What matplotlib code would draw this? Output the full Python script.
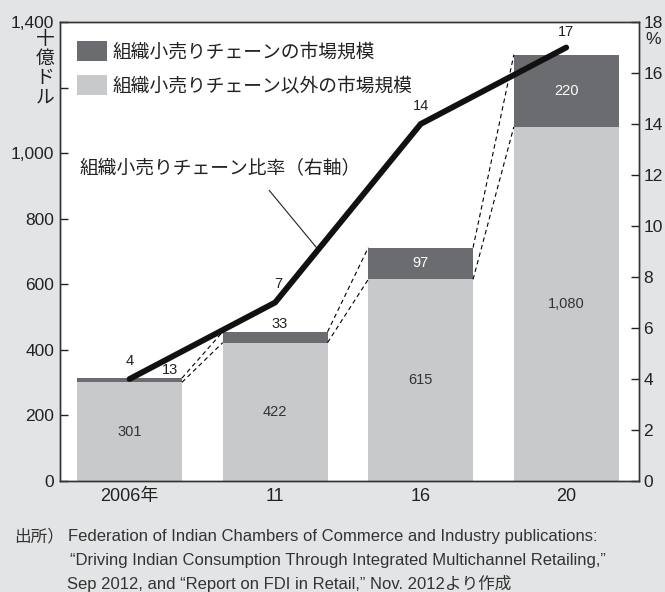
import matplotlib
matplotlib.use("Agg")
import matplotlib.pyplot as plt
from matplotlib.patches import Patch

# ---- data ----
categories = ["2006年", "11", "16", "20"]
organized = [13, 33, 97, 220]          # 組織小売りチェーンの市場規模 (十億ドル)
unorganized = [301, 422, 615, 1080]    # 以外の市場規模
share = [4, 7, 14, 17]                 # 比率 (%)
left_ticks = [0, 200, 400, 600, 800, 1000, 1200, 1400]
left_ticklabels = ["0", "200", "400", "600", "800", "1,000", "", "1,400"]
right_ticks = [0, 2, 4, 6, 8, 10, 12, 14, 16, 18]
unorg_labels = ["301", "422", "615", "1,080"]

JP = ["Noto Sans CJK JP", "DejaVu Sans"]
NUM = ["Liberation Sans", "DejaVu Sans"]
MIX = ["Liberation Sans", "Noto Sans CJK JP", "DejaVu Sans"]

BG = "#e3e4e5"
LIGHT = "#c8c9cb"
DARK = "#6b6c70"
TXT = "#222222"

fig = plt.figure(figsize=(6.65, 5.92), dpi=100, facecolor=BG)
ax = fig.add_axes([60/665, 1-481/592, 579/665, 459/592])
ax.set_facecolor("white")
ax2 = ax.twinx()

x = list(range(len(categories)))
w = 0.72
ax.bar(x, unorganized, width=w, color=LIGHT, zorder=2)
ax.bar(x, organized, width=w, bottom=unorganized, color=DARK, zorder=2)

totals = [u + o for u, o in zip(unorganized, organized)]
# dashed connectors
for i in range(len(x) - 1):
    for vals in (totals, unorganized):
        ax.plot([x[i] + w/2, x[i+1] - w/2], [vals[i], vals[i+1]],
                color="black", lw=0.8, ls=(0, (4, 3)), zorder=3)

ax.set_xlim(-0.478, 3.50)
ax.set_ylim(0, 1400)
ax2.set_ylim(0, 18)

ax2.plot(x, share, color="#111111", lw=4.2, solid_capstyle="round",
         solid_joinstyle="miter", zorder=5)

# ticks
ax.set_yticks(left_ticks)
ax.set_yticklabels(left_ticklabels, family=NUM, fontsize=12.5)
ax.tick_params(axis="y", direction="in", length=6, width=1, pad=4, colors=TXT)
ax.set_xticks(x)
ax.set_xticklabels(categories, family=MIX, fontsize=13)
ax.tick_params(axis="x", length=0, pad=5, colors=TXT)
ax2.set_yticks(right_ticks)
ax2.set_yticklabels([str(t) for t in right_ticks], family=NUM, fontsize=12.5)
ax2.tick_params(axis="y", direction="in", length=6, width=1, pad=3, colors=TXT)
for a in (ax, ax2):
    for s in a.spines.values():
        s.set_color("#333333")
        s.set_linewidth(1.0)

# axis unit labels
fig.text(45/665, 1-68/592, "\n".join("十億ドル"), family=JP, fontsize=13.5,
         ha="center", va="center", linespacing=0.88, color=TXT)
fig.text(653/665, 1-40/592, "%", family=NUM, fontsize=12.5, ha="center",
         va="center", color=TXT)

# value labels
for i in range(len(x)):
    ax.text(x[i], unorganized[i]/2, unorg_labels[i], ha="center", va="center",
            family=NUM, fontsize=10.5, color="#333333", zorder=6)
for i in (2, 3):
    ax.text(x[i], unorganized[i] + organized[i]/2, str(organized[i]),
            ha="center", va="center", family=NUM, fontsize=10.5, color="white", zorder=6)
ax.text(x[0] + 0.28, totals[0] + 4, str(organized[0]), ha="center", va="bottom",
        family=NUM, fontsize=10.5, color=TXT, zorder=6)
ax.text(x[1] + 0.03, totals[1] + 4, str(organized[1]), ha="center", va="bottom",
        family=NUM, fontsize=10.5, color=TXT, zorder=6)
offs = [(0, 8), (2, 8), (0, 8), (0, 6)]
for i in range(len(x)):
    ax2.annotate(str(share[i]), (x[i], share[i]), xytext=offs[i],
                 textcoords="offset points", ha="center", va="bottom",
                 family=NUM, fontsize=10.5, color=TXT, zorder=6)

# legend
handles = [Patch(facecolor=DARK, edgecolor="none"), Patch(facecolor=LIGHT, edgecolor="none")]
leg = ax.legend(handles, ["組織小売りチェーンの市場規模", "組織小売りチェーン以外の市場規模"],
                loc="upper left", bbox_to_anchor=(0.029, 0.958), frameon=False,
                prop={"family": JP, "size": 13.5}, handlelength=1.6, handleheight=1.23,
                handletextpad=0.3, labelspacing=0.69, borderpad=0, borderaxespad=0)
for t in leg.get_texts():
    t.set_color(TXT)
leg.set_zorder(10)

# line annotation
fig.text(80/665, 1-168/592, "組織小売りチェーン比率（右軸）", family=JP, fontsize=13.5,
         ha="left", va="center", color=TXT)
ax2.annotate("", xy=(1.296, 7 + 0.296*7), xytext=(0.959, 11.4),
             arrowprops=dict(arrowstyle="-", color=TXT, lw=0.8,
                             shrinkA=0, shrinkB=0))

# source
fig.text(14/665, 1-537/592, "出所）", family=JP, fontsize=12, ha="left", va="center",
         color="#333333")
src = ["Federation of Indian Chambers of Commerce and Industry publications:",
       "\u201cDriving Indian Consumption Through Integrated Multichannel Retailing,\u201d",
       "Sep 2012, and \u201cReport on FDI in Retail,\u201d Nov. 2012より作成"]
ys = [537, 561, 584]
xs = [68, 70, 67]
for s, yy, xx in zip(src, ys, xs):
    fig.text(xx/665, 1-yy/592, s, family=MIX,
             fontsize=12, ha="left", va="center", color="#333333")

fig.savefig("out.png", dpi=100, facecolor=BG)
